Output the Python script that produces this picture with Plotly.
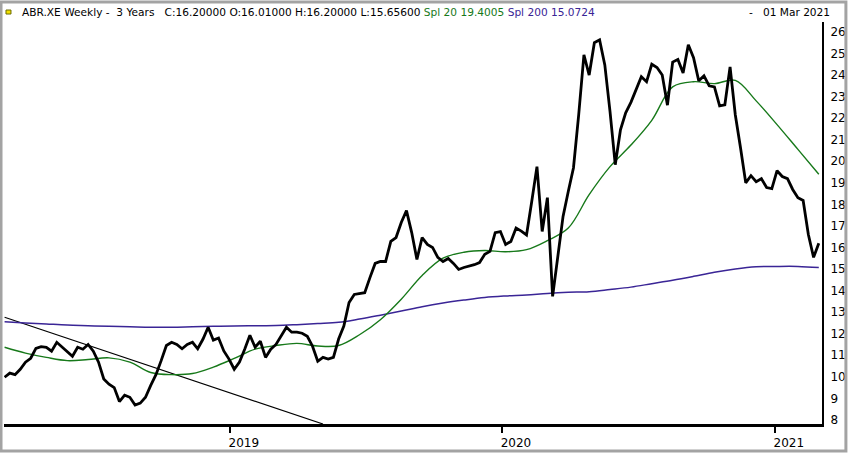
import pandas as pd
import plotly.graph_objects as go

# weekly closes, ABR.XE, 05 Mar 2018 .. 01 Mar 2021
close = [
    9.98, 10.17, 10.1, 10.35, 10.68, 10.86, 11.32, 11.4, 11.37, 11.19,
    11.6, 11.37, 11.14, 10.95, 11.37, 11.28, 11.5, 11.19, 10.68, 9.9,
    9.66, 9.5, 8.85, 9.15, 9.05, 8.69, 8.78, 9.05, 9.6, 10.1,
    10.75, 11.45, 11.6, 11.5, 11.3, 11.5, 11.6, 11.3, 11.74, 12.3,
    11.7, 11.8, 11.2, 10.82, 10.35, 10.68, 11.28, 11.93, 11.37, 11.65,
    10.9, 11.28, 11.5, 11.88, 12.3, 12.07, 12.07, 12.02, 11.88, 11.42,
    10.72, 10.9, 10.82, 10.9, 11.75, 12.35, 13.45, 13.82, 13.85, 13.9,
    14.6, 15.26, 15.35, 15.35, 16.28, 16.46, 17.16, 17.71, 16.69, 15.44,
    16.46, 16.14, 16.0, 15.54, 15.35, 15.49, 15.26, 14.98, 15.07, 15.12,
    15.2, 15.3, 15.68, 15.82, 16.69, 16.74, 16.14, 16.28, 16.9, 16.76,
    16.58, 18.13, 19.75, 16.74, 18.31, 13.73, 15.68, 17.44, 18.6, 19.7,
    22.16, 24.94, 24.0, 25.5, 25.63, 24.47, 22.3, 19.84, 21.46, 22.25,
    22.73, 23.35, 23.92, 23.69, 24.5, 24.35, 24.0, 22.6, 24.6, 24.72,
    24.1, 25.4, 24.8, 23.73, 23.96, 23.5, 23.45, 22.57, 22.62, 24.38,
    22.16, 20.63, 19.0, 19.33, 19.05, 19.19, 18.78, 18.73, 19.56, 19.29,
    19.19, 18.69, 18.31, 18.18, 16.6, 15.54, 16.2,
]
dates = pd.date_range("2018-03-05", periods=len(close), freq="7D")

# moving averages read every 4 weeks
spl20 = [
    11.37, 11.1, 10.9, 10.75, 10.8, 10.88, 10.68, 10.2, 10.1, 10.15,
    10.45, 10.85, 11.28, 11.45, 11.55, 11.43, 11.45, 11.95, 12.65, 13.6,
    14.7, 15.5, 15.78, 15.86, 15.8, 15.9, 16.32, 16.9, 18.45, 19.75,
    20.75, 21.9, 23.45, 23.69, 23.6, 23.75, 22.8, 21.7, 20.55, 19.4,
]
spl200 = [
    12.55, 12.5, 12.45, 12.4, 12.37, 12.34, 12.32, 12.3, 12.3, 12.32,
    12.34, 12.36, 12.37, 12.38, 12.42, 12.47, 12.53, 12.68, 12.86, 13.05,
    13.25, 13.42, 13.56, 13.68, 13.75, 13.8, 13.87, 13.92, 13.95, 14.05,
    14.16, 14.32, 14.48, 14.66, 14.85, 15.0, 15.1, 15.12, 15.12, 15.07,
]
ma_dates = pd.date_range("2018-03-05", periods=len(spl20), freq="28D")

# hand drawn trend line
trend_dates = ["2018-03-05", "2019-05-06"]
trend_vals = [12.76, 7.81]

year_ticks = ["2019-01-01", "2020-01-01", "2021-01-01"]
year_labels = ["2019", "2020", "2021"]

GREEN = "#17791a"
PURPLE = "#3a2596"

fig = go.Figure()
fig.add_trace(go.Scatter(x=trend_dates, y=trend_vals, mode="lines",
                         line=dict(color="black", width=1.2)))
fig.add_trace(go.Scatter(x=ma_dates, y=spl200, mode="lines",
                         line=dict(color=PURPLE, width=1.5, shape="spline")))
fig.add_trace(go.Scatter(x=ma_dates, y=spl20, mode="lines",
                         line=dict(color=GREEN, width=1.4, shape="spline")))
fig.add_trace(go.Scatter(x=dates, y=close, mode="lines",
                         line=dict(color="black", width=2.8)))

header = ("ABR.XE Weekly -&nbsp; 3 Years &nbsp; C:16.20000 O:16.01000 H:16.20000 L:15.65600 "
          f"<span style='color:{GREEN}'>Spl 20 19.4005</span> "
          f"<span style='color:{PURPLE}'>Spl 200 15.0724</span>")

fig.update_layout(
    width=850, height=454,
    margin=dict(l=4, r=25, t=22, b=29),
    paper_bgcolor="white", plot_bgcolor="white",
    showlegend=False,
    font=dict(family="DejaVu Sans", size=11, color="black"),
    xaxis=dict(
        type="date",
        range=["2018-03-04 05:00", "2021-03-05 07:00"],
        tickvals=year_ticks, ticktext=year_labels,
        ticks="outside", ticklen=6, tickwidth=2, tickcolor="black",
        ticklabelshift=14,
        showline=True, linecolor="black", linewidth=2.5,
        showgrid=False, zeroline=False,
        tickfont=dict(size=12),
    ),
    yaxis=dict(
        side="right",
        range=[7.81, 26.46],
        dtick=1, tick0=8,
        ticks="", ticklabelstandoff=4,
        showline=True, linecolor="black", linewidth=2,
        showgrid=False, zeroline=False,
        tickfont=dict(size=12),
    ),
)

fig.add_annotation(xref="paper", yref="paper", x=16 / 821, y=1 + 10 / 403,
                   text=header, showarrow=False, xanchor="left", yanchor="middle",
                   font=dict(family="DejaVu Sans", size=10.6))
fig.add_annotation(xref="paper", yref="paper", x=831 / 821, y=1 + 10 / 403,
                   text="-&nbsp;&nbsp; 01 Mar 2021", showarrow=False,
                   xanchor="right", yanchor="middle",
                   font=dict(family="DejaVu Sans", size=10.6))

# window frame and the little flag
fig.add_shape(type="rect", xref="paper", yref="paper",
              x0=-3 / 821, x1=845 / 821, y0=-27 / 403, y1=1 + 20 / 403,
              line=dict(color="#a3a3a3", width=3))
fig.add_shape(type="rect", xref="paper", yref="paper",
              x0=2 / 821, x1=7 / 821, y0=1 + 8 / 403, y1=1 + 12 / 403,
              line=dict(color="#6b6b00", width=1), fillcolor="#f2e000")

fig.write_html("out.html", config={"displayModeBar": False},
               post_script="document.body.style.margin='0';")
